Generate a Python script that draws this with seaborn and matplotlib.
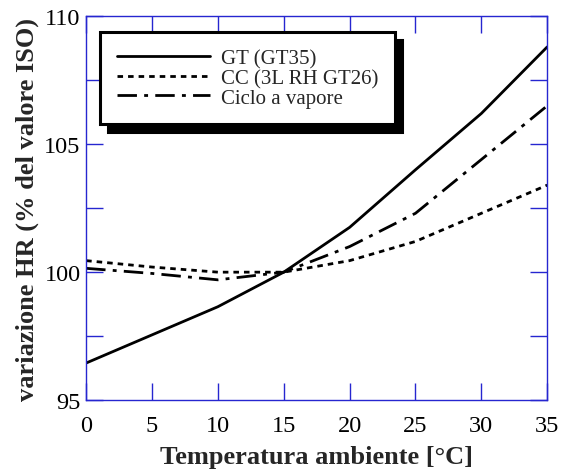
import numpy as np
import pandas as pd
import matplotlib
matplotlib.use("Agg")
import matplotlib.pyplot as plt
from matplotlib.ticker import AutoMinorLocator
import seaborn as sns

# values
temperature = [0, 5, 10, 15, 20, 25, 30, 35]
hr_gt = [96.45, 97.55, 98.65, 100.0, 101.75, 104.0, 106.2, 108.8]
hr_cc = [100.45, 100.2, 100.0, 100.0, 100.45, 101.2, 102.3, 103.4]
hr_steam = [100.15, 99.95, 99.7, 100.0, 101.0, 102.3, 104.4, 106.5]

series_names = ["GT (GT35)", "CC (3L RH GT26)", "Ciclo a vapore"]
x_ticks = [0, 5, 10, 15, 20, 25, 30, 35]
y_ticks = [95, 100, 105, 110]

df = pd.DataFrame({
    "T": temperature * 3,
    "HR": hr_gt + hr_cc + hr_steam,
    "serie": np.repeat(series_names, len(temperature)),
})

sns.set_theme(style="white")
plt.rcParams["font.family"] = ["Liberation Serif", "DejaVu Serif"]

BLUE = "#2626d0"

fig = plt.figure(figsize=(5.63, 4.77), dpi=100)
ax = fig.add_axes([0.153, 0.159, 0.819, 0.805])

dash_map = {
    "GT (GT35)": "",
    "CC (3L RH GT26)": (2.0, 1.8),
    "Ciclo a vapore": (7, 2.6, 1.4, 2.6),
}
sns.lineplot(data=df, x="T", y="HR", style="serie", style_order=series_names,
             dashes=dash_map, color="black", linewidth=2.0, legend=False, ax=ax,
             errorbar=None)

for line, name in zip(ax.lines, series_names):
    line.set_label(name)

ax.set_xlim(0, 35)
ax.set_ylim(95, 110)
ax.set_xticks(x_ticks)
ax.set_yticks(y_ticks)
ax.yaxis.set_minor_locator(AutoMinorLocator(2))

for sp in ax.spines.values():
    sp.set_color(BLUE)
    sp.set_linewidth(1.0)

ax.tick_params(which="both", direction="in", length=12, width=1.0,
               color=BLUE, top=True, right=True, bottom=True, left=True,
               labelsize=17.5, labelcolor="black")
ax.tick_params(axis="x", pad=11)
ax.tick_params(axis="y", pad=4)

ax.set_xlabel("Temperatura ambiente [°C]", fontsize=19, fontweight="bold", labelpad=6)
ax.set_ylabel("variazione HR (% del valore ISO)", fontsize=19, fontweight="bold",
              labelpad=4)

leg = ax.legend(loc="upper left", bbox_to_anchor=(0.03, 0.958), borderaxespad=0,
                fontsize=15, frameon=True, fancybox=False, handlelength=4.5,
                handletextpad=0.5, labelspacing=0.0, borderpad=0.8,
                shadow={"ox": 5.5, "oy": -5.5, "color": "black", "alpha": 1})
leg.get_frame().set_edgecolor("black")
leg.get_frame().set_linewidth(2.2)
leg.get_frame().set_alpha(1)

fig.savefig("out.png", dpi=100)
